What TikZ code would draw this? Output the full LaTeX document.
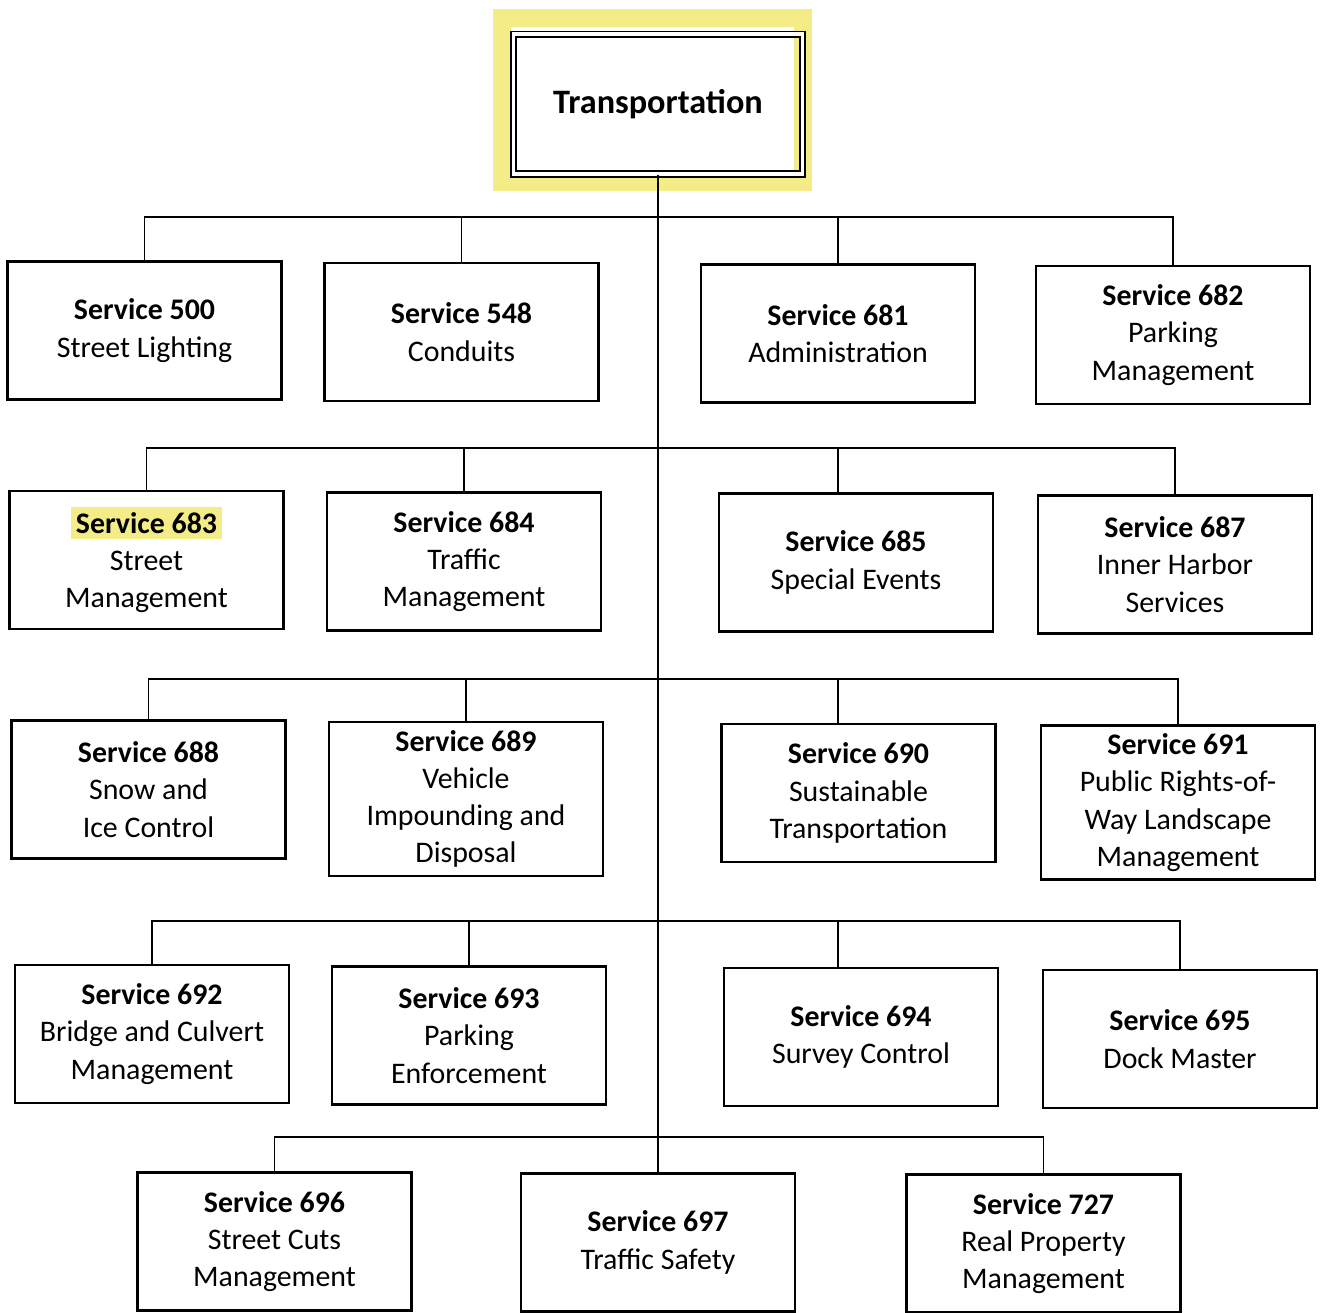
\documentclass[tikz,border=0pt]{standalone}
\usepackage{fontspec}
\setmainfont{Carlito}
\usepackage{tikz}
\definecolor{hlyellow}{RGB}{244,237,135}

\begin{document}
\begin{tikzpicture}[x=0.02cm, y=-0.02cm,
    svcbox/.style={draw, line width=1.2pt, minimum width=5.48cm, minimum height=2.76cm, inner sep=0pt, align=center, font=\fontsize{17}{21.2}\selectfont},
    tallbox/.style={svcbox, minimum height=3.08cm},
    link/.style={line width=1.1pt}]
    \useasboundingbox (0,0) rectangle (1320,1313);
    %%Highlight
    \draw[hlyellow, line width=0.36cm] (502,18) rectangle (803,182);
    %%Top box
    \node[draw, double, line width=1.1pt, double distance=1.8pt, minimum width=5.78cm, minimum height=2.8cm, font=\fontsize{19.5}{23}\selectfont\bfseries] (trans) at (658,104) {Transportation};
    %%Row 1
    \node[svcbox] (s500) at (144.5,330.5) {\textbf{Service 500}\\Street Lighting};
    \node[svcbox] (s548) at (461.5,332) {\textbf{Service 548}\\Conduits};
    \node[svcbox] (s681) at (838,333.5) {\textbf{Service 681}\\Administration};
    \node[svcbox] (s682) at (1173,335) {\textbf{Service 682}\\Parking\\Management};
    %%Row 2
    \node[svcbox] (s683) at (146.5,560) {{\fboxsep=3pt\colorbox{hlyellow}{\textbf{Service 683}}}\\Street\\Management};
    \node[svcbox] (s684) at (464,561.5) {\textbf{Service 684}\\Traffic\\Management};
    \node[svcbox] (s685) at (856,562.5) {\textbf{Service 685}\\Special Events};
    \node[svcbox] (s687) at (1175,564.5) {\textbf{Service 687}\\Inner Harbor\\Services};
    %%Row 3
    \node[svcbox] (s688) at (148.5,789.5) {\textbf{Service 688}\\Snow and\\Ice Control};
    \node[tallbox] (s689) at (466,799) {\textbf{Service 689}\\Vehicle\\Impounding and\\Disposal};
    \node[svcbox] (s690) at (858.5,793) {\textbf{Service 690}\\Sustainable\\Transportation};
    \node[tallbox] (s691) at (1178,802.5) {\textbf{Service 691}\\Public Rights-of-\\Way Landscape\\Management};
    %%Row 4
    \node[svcbox] (s692) at (152,1034) {\textbf{Service 692}\\Bridge and Culvert\\Management};
    \node[svcbox] (s693) at (469,1035.5) {\textbf{Service 693}\\Parking\\Enforcement};
    \node[svcbox] (s694) at (861,1037) {\textbf{Service 694}\\Survey Control};
    \node[svcbox] (s695) at (1180,1039) {\textbf{Service 695}\\Dock Master};
    %%Row 5
    \node[svcbox] (s696) at (274.5,1241.5) {\textbf{Service 696}\\Street Cuts\\Management};
    \node[svcbox] (s697) at (658,1242.5) {\textbf{Service 697}\\Traffic Safety};
    \node[svcbox] (s727) at (1043.5,1243.5) {\textbf{Service 727}\\Real Property\\Management};
    %%Trunk and bus lines
    \coordinate (bus1) at (658,217);
    \coordinate (bus2) at (658,448);
    \coordinate (bus3) at (658,679);
    \coordinate (bus4) at (658,921);
    \coordinate (bus5) at (658,1137);
    \draw[link] (trans.south) -- (s697.north);
    \draw[link] (s500.north) |- (bus1) -| (s682.north);
    \draw[link] (s548.north) |- (bus1);
    \draw[link] (bus1) -| (s681.north);
    \draw[link] (s683.north) |- (bus2) -| (s687.north);
    \draw[link] (s684.north) |- (bus2);
    \draw[link] (bus2) -| (s685.north -| s681.north);
    \draw[link] (s688.north) |- (bus3) -| (s691.north);
    \draw[link] (s689.north) |- (bus3);
    \draw[link] (bus3) -| (s690.north -| s681.north);
    \draw[link] (s692.north) |- (bus4) -| (s695.north);
    \draw[link] (s693.north) |- (bus4);
    \draw[link] (bus4) -| (s694.north -| s681.north);
    \draw[link] (s696.north) |- (bus5) -| (s727.north);
\end{tikzpicture}
\end{document}
